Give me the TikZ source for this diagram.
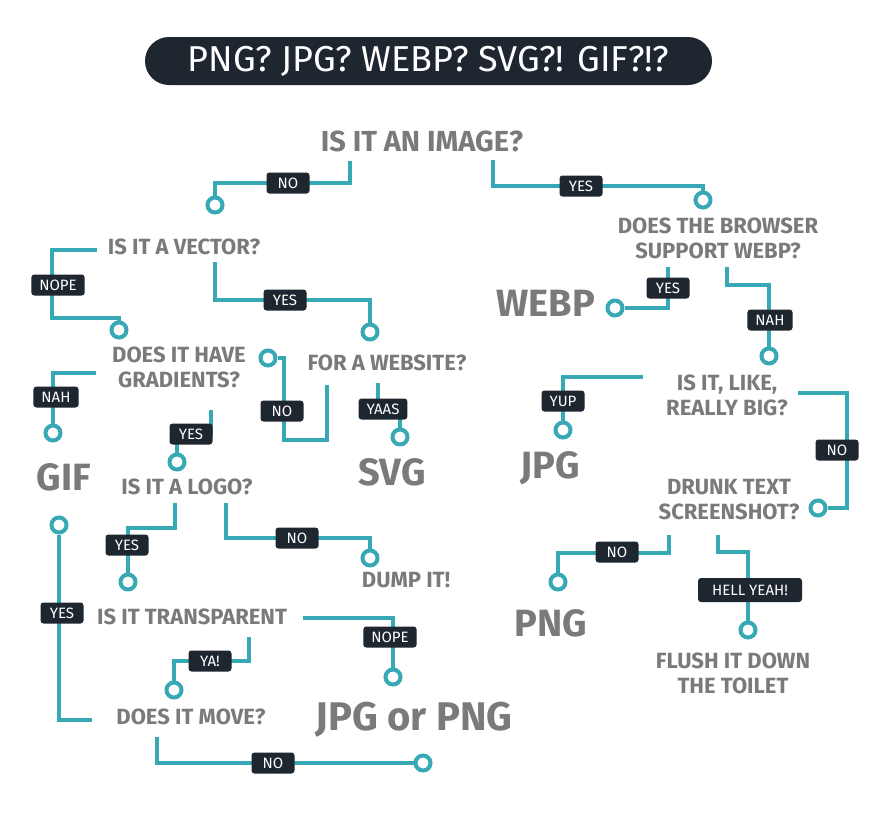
\documentclass[tikz,border=0pt]{standalone}
\usepackage{fontspec}
\setmainfont{Fira Sans}
\usepackage{tikz}
\definecolor{lagoon}{RGB}{54,169,180}
\definecolor{ink}{RGB}{30,38,48}
\definecolor{slate}{RGB}{122,122,122}

\begin{document}
\begin{tikzpicture}[x=1pt,y=-1pt,
  wire/.style={lagoon,line width=4pt},
  dot/.style={circle,draw=lagoon,line width=4pt,fill=white,minimum size=15pt,inner sep=0pt},
  quest/.style={text=slate,font=\fontsize{22}{25}\selectfont\bfseries,align=center,inner sep=0pt},
  answer/.style={text=slate,font=\fontsize{38}{40}\selectfont\bfseries,inner sep=0pt},
  tag/.style={fill=ink,text=white,rounded corners=3pt,font=\fontsize{15}{15}\selectfont,
    minimum height=21pt,minimum width=43pt,inner xsep=8pt,inner ysep=0pt}]
\useasboundingbox[fill=white] (0,0) rectangle (884,828);

% title bar
\node[fill=ink,rounded corners=24pt,minimum width=567pt,minimum height=48pt,text=white,
  font=\fontsize{36}{36}\selectfont] (title) at (428.5,61) {PNG? JPG? WEBP? SVG?! GIF?!?};

% questions
\node[quest,font=\fontsize{29}{30}\selectfont\bfseries] (qimg) at (422,141) {IS IT AN IMAGE?};
\node[quest] (qweb) at (718,238) {DOES THE BROWSER\\SUPPORT WEBP?};
\node[quest] (qvec) at (184,247) {IS IT A VECTOR?};
\node[quest] (qgrad) at (179,367) {DOES IT HAVE\\GRADIENTS?};
\node[quest] (qsite) at (387,363) {FOR A WEBSITE?};
\node[quest] (qlogo) at (187,487) {IS IT A LOGO?};
\node[quest] (qbig) at (727,395) {IS IT, LIKE,\\REALLY BIG?};
\node[quest] (qdrunk) at (729,500) {DRUNK TEXT\\SCREENSHOT?};
\node[quest] (qdump) at (406,580) {DUMP IT!};
\node[quest] (qtrans) at (192,617) {IS IT TRANSPARENT};
\node[quest] (qflush) at (733,673) {FLUSH IT DOWN\\THE TOILET};
\node[quest] (qmove) at (191,717) {DOES IT MOVE?};

% answers
\node[answer] (aweb) at (546,303) {WEBP};
\node[answer] (agif) at (64,477) {GIF};
\node[answer] (asvg) at (392,472) {SVG};
\node[answer] (ajpg) at (550,468) {JPG};
\node[answer] (apng) at (551,623) {PNG};
\node[answer,font=\fontsize{40}{40}\selectfont\bfseries] (ajp) at (414,720) {JPG or PNG};

% line ends
\coordinate (s1) at (350,161);
\coordinate (s2) at (493,160);
\coordinate (s3) at (97,250);
\coordinate (s4) at (215,262);
\coordinate (s5) at (668,267);
\coordinate (s6) at (727,267);
\coordinate (s7) at (96,373);
\coordinate (s8) at (211,410);
\coordinate (s9) at (327,385);
\coordinate (s10) at (378,383);
\coordinate (s11) at (175,503);
\coordinate (s12) at (226,503);
\coordinate (s13) at (92,720);
\coordinate (s14) at (303,618);
\coordinate (s15) at (249,637);
\coordinate (s16) at (157,737);
\coordinate (s17) at (643,377);
\coordinate (s18) at (798,393);
\coordinate (s19) at (669,535);
\coordinate (s20) at (718,535);

% circles
\node[dot] (d1) at (215,205) {};
\node[dot] (d2) at (703,200) {};
\node[dot] (d3) at (119,330) {};
\node[dot] (d4) at (370,332) {};
\node[dot] (d5) at (615,308) {};
\node[dot] (d6) at (769,356) {};
\node[dot] (d7) at (53,433) {};
\node[dot] (d8) at (177,462) {};
\node[dot] (d9) at (268,358) {};
\node[dot] (d10) at (400,437) {};
\node[dot] (d11) at (128,582) {};
\node[dot] (d12) at (370,558) {};
\node[dot] (d13) at (59,525) {};
\node[dot] (d14) at (393,677) {};
\node[dot] (d15) at (174,690) {};
\node[dot] (d16) at (423,763) {};
\node[dot] (d17) at (563,430) {};
\node[dot] (d18) at (818,508) {};
\node[dot] (d19) at (558,582) {};
\node[dot] (d20) at (748,630) {};

% wires
\draw[wire] (s1) -- ++(0,22) -| (d1);
\draw[wire] (s2) -- ++(0,26) -| (d2);
\draw[wire] (s3) -- ++(-45,0) -- ++(0,68) -| (d3);
\draw[wire] (s4) -- ++(0,38) -| (d4);
\draw[wire] (s5) |- (d5);
\draw[wire] (s6) -- ++(0,18) -| (d6);
\draw[wire] (s7) -| (d7);
\draw[wire] (s8) -- ++(0,24) -| (d8);
\draw[wire] (s9) -- ++(0,55) -- ++(-43,0) |- (d9);
\draw[wire] (s10) -- ++(0,26) -| (d10);
\draw[wire] (s11) -- ++(0,25) -| (d11);
\draw[wire] (s12) -- ++(0,35) -| (d12);
\draw[wire] (s13) -| (d13);
\draw[wire] (s14) -| (d14);
\draw[wire] (s15) -- ++(0,24) -| (d15);
\draw[wire] (s16) |- (d16);
\draw[wire] (s17) -| (d17);
\draw[wire] (s18) -- ++(49,0) |- (d18);
\draw[wire] (s19) -- ++(0,18) -| (d19);
\draw[wire] (s20) -- ++(0,17) -| (d20);

% labels on the wires
\node[tag] (t1) at (288,183) {NO};
\node[tag] (t2) at (581,186) {YES};
\node[tag] (t3) at (58,285) {NOPE};
\node[tag] (t4) at (285,300) {YES};
\node[tag] (t5) at (668,288) {YES};
\node[tag] (t6) at (770,320) {NAH};
\node[tag] (t7) at (56,397) {NAH};
\node[tag] (t8) at (191,434) {YES};
\node[tag] (t9) at (282,411) {NO};
\node[tag] (t10) at (383,409) {YAAS};
\node[tag] (t11) at (127,545) {YES};
\node[tag] (t12) at (297,538) {NO};
\node[tag] (t13) at (62,613) {YES};
\node[tag] (t14) at (390,637) {NOPE};
\node[tag] (t15) at (210,661) {YA!};
\node[tag] (t16) at (273,763) {NO};
\node[tag] (t17) at (563,401) {YUP};
\node[tag] (t18) at (837,450) {NO};
\node[tag] (t19) at (617,552) {NO};
\node[tag,minimum width=104pt,minimum height=24pt] (t20) at (750,590) {HELL YEAH!};
\end{tikzpicture}
\end{document}
